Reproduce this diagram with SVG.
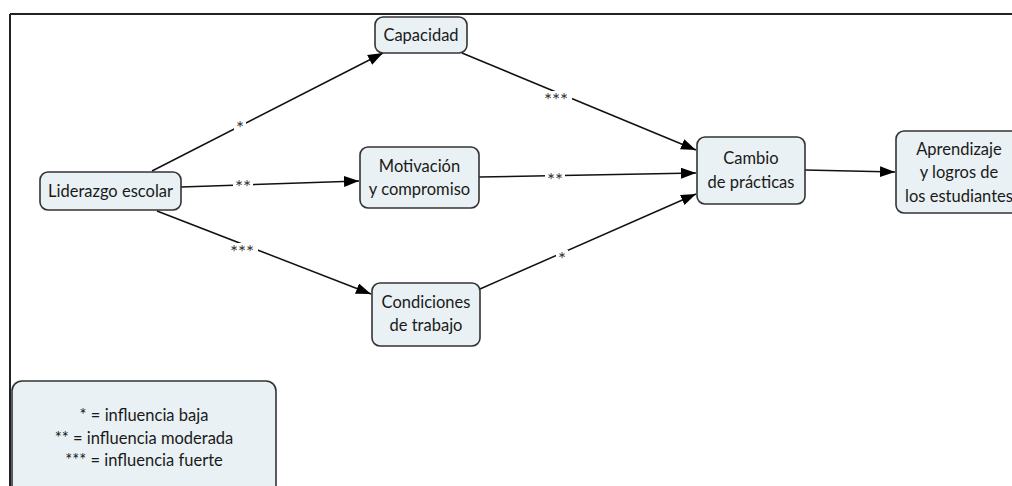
<svg xmlns="http://www.w3.org/2000/svg" width="1012" height="486" viewBox="0 0 1012 486">
  <style>
    .node rect { fill: #e9f1f4; stroke: #333333; stroke-width: 1.6; }
    .node text { font-family: Lato, "Liberation Sans", sans-serif; font-size: 16.5px; fill: #1a1a1a; text-anchor: middle; }
    .edge { stroke: #111111; stroke-width: 1.5; fill: none; }
    .arrow { marker-end: url(#ah); }
    .lbl-bg { fill: #ffffff; stroke: none; }
    .lbl { font-family: Lato, "Liberation Sans", sans-serif; font-size: 19px; fill: #333333; text-anchor: middle; }
  </style>
  <defs>
    <marker id="ah" markerUnits="userSpaceOnUse" markerWidth="16" markerHeight="12" refX="15" refY="5.5" orient="auto">
      <path d="M0,0 L15,5.5 L0,11 z" fill="#000000"/>
    </marker>
  </defs>
  <rect x="0" y="0" width="1012" height="486" fill="#ffffff"/>
  <g id="frame">
    <line x1="10" y1="14" x2="1012" y2="14" stroke="#222222" stroke-width="2"/>
    <line x1="10" y1="14" x2="10" y2="486" stroke="#222222" stroke-width="2"/>
  </g>
  <g id="connectors">
    <line class="edge arrow" x1="152" y1="171" x2="383" y2="53"/>
    <line class="edge arrow" x1="181" y1="187" x2="359" y2="181"/>
    <line class="edge arrow" x1="157" y1="211" x2="371" y2="294"/>
    <line class="edge arrow" x1="462" y1="53" x2="696" y2="150"/>
    <line class="edge arrow" x1="479" y1="177" x2="696" y2="173"/>
    <line class="edge arrow" x1="480" y1="289" x2="696" y2="194"/>
    <line class="edge arrow" x1="805" y1="170" x2="895" y2="172"/>
    <rect class="lbl-bg" x="234" y="119" width="12" height="12"/>
    <text class="lbl" x="240" y="135">*</text>
    <rect class="lbl-bg" x="233" y="178" width="20" height="11"/>
    <text class="lbl" x="243" y="194">**</text>
    <rect class="lbl-bg" x="226" y="243" width="32" height="12"/>
    <text class="lbl" x="242" y="259">***</text>
    <rect class="lbl-bg" x="540" y="91" width="32" height="12"/>
    <text class="lbl" x="556" y="107">***</text>
    <rect class="lbl-bg" x="545" y="171" width="20" height="11"/>
    <text class="lbl" x="555" y="187">**</text>
    <rect class="lbl-bg" x="556" y="250" width="12" height="12"/>
    <text class="lbl" x="562" y="266">*</text>
  </g>
  <g id="liderazgo" class="node">
    <rect x="40" y="172" width="141" height="38" rx="8"/>
    <text x="110.5" y="197">Liderazgo escolar</text>
  </g>
  <g id="capacidad" class="node">
    <rect x="375" y="17" width="92" height="36" rx="8"/>
    <text x="421" y="41">Capacidad</text>
  </g>
  <g id="motivacion" class="node">
    <rect x="360" y="147" width="119" height="61" rx="8"/>
    <text x="419.5" y="172">Motivación</text>
    <text x="419.5" y="195">y compromiso</text>
  </g>
  <g id="condiciones" class="node">
    <rect x="372" y="283" width="108" height="63" rx="8"/>
    <text x="426" y="308">Condiciones</text>
    <text x="426" y="331">de trabajo</text>
  </g>
  <g id="cambio" class="node">
    <rect x="697" y="137" width="108" height="67" rx="8"/>
    <text x="751" y="164">Cambio</text>
    <text x="751" y="188">de prácticas</text>
  </g>
  <g id="aprendizaje" class="node">
    <rect x="896" y="131" width="140" height="82" rx="8"/>
    <text x="959" y="155">Aprendizaje</text>
    <text x="959" y="178">y logros de</text>
    <text x="959" y="202">los estudiantes</text>
  </g>
  <g id="leyenda" class="node">
    <rect x="12" y="381" width="264" height="130" rx="10"/>
    <text x="144" y="421">* = influencia baja</text>
    <text x="144" y="444">** = influencia moderada</text>
    <text x="144" y="466">*** = influencia fuerte</text>
  </g>
</svg>
